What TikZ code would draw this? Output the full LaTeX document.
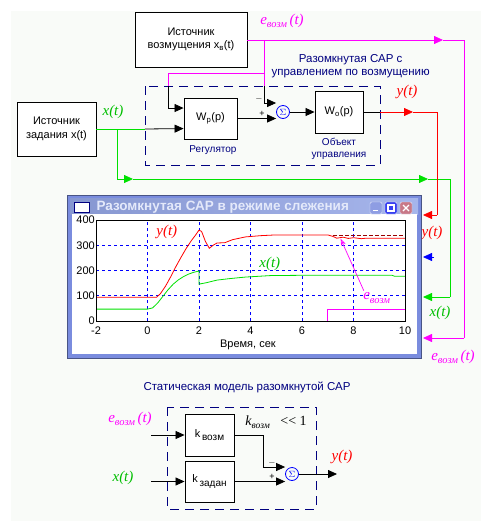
\documentclass[tikz,border=0pt]{standalone}
\usepackage{fontspec}
\setmainfont{Liberation Sans}
\newfontfamily\tms{Liberation Serif}
\usetikzlibrary{arrows.meta,positioning,calc}
\definecolor{navy}{RGB}{0,0,128}
\definecolor{emag}{RGB}{255,0,255}
\definecolor{xgrn}{RGB}{0,225,0}
\definecolor{bgc}{RGB}{249,251,248}
\definecolor{frame}{RGB}{122,140,222}
\definecolor{tbar}{RGB}{150,168,232}
\definecolor{ttext}{RGB}{228,233,250}
\begin{document}
\begin{tikzpicture}[x=1pt,y=-1pt,>={Triangle[length=9pt,width=8pt]},
    blok/.style={draw,line width=0.9pt,fill=white,align=center,inner sep=0pt,
        font=\fontsize{11}{13.5}\selectfont},
    summ/.style={draw=blue,circle,line width=0.8pt,inner sep=0pt,minimum size=13pt,
        text=blue,font=\fontsize{9}{9}\selectfont},
    lbl/.style={font=\fontsize{10}{12}\selectfont,text=navy,align=center},
    sig/.style={font=\fontsize{15}{15}\tms\itshape},
    frm/.style={draw=navy,line width=0.9pt,dash pattern=on 9pt off 6pt},
    wire/.style={line width=0.8pt}]
\useasboundingbox (0,0) rectangle (493,528);
\fill[bgc] (11,11) rectangle (481,521);

%Blocks of the open loop system
\node[blok,minimum width=112pt,minimum height=55pt] (srcV) at (191,39.5) {Источник\\возмущения x\textsubscript{в}(t)};
\node[blok,minimum width=79pt,minimum height=54pt] (srcX) at (56.5,129) {Источник\\задания x(t)};
\draw[frm] (145,86) rectangle (380,165);
\node[blok,minimum width=53pt,minimum height=41pt] (Wp) at (210.5,118.5) {W\textsubscript{p}(p)};
\node[blok,minimum width=48pt,minimum height=42pt] (Wo) at (339,112) {W\textsubscript{o}(p)};
\node[summ] (sum1) at (283,112) {$\Sigma$};
\node[lbl,anchor=west,font=\fontsize{11.5}{13}\selectfont] (title1) at (268,66) {Разомкнутая САР с\\управлением по возмущению};
\node[lbl] (reg) at (213,150) {Регулятор};
\node[lbl,font=\fontsize{10}{12.5}\selectfont] (obj) at (339,149) {Объект\\управления};

%Disturbance e(t)
\coordinate (eTap) at (264,40);
\coordinate (eArr) at (443,40);
\coordinate (eR) at (464,40);
\coordinate (eB) at (464,338);
\coordinate (eIn) at (423,338);
\coordinate (eK) at (264,73);
\coordinate (eL) at (168,73);
\coordinate (eL2) at (168,86);
\coordinate (eK2) at (264,86);
\coordinate (minus) at (264,103);
\draw[emag,wire,->] (srcV.east |- eArr) -- (eArr);
\draw[emag,wire] (eArr) -- (eR) -- (eB);
\draw[emag,wire,->] (eB) -- (eIn);
\draw[emag,wire] (eTap) -- (eK) -- (eL) -- (eL2);
\draw[emag,wire] (eK) -- (eK2);
\draw[wire,->] (eL2) |- ($(Wp.north west)!0.25!(Wp.south west)$);
\draw[wire] (eK2) -- (minus);
\draw[wire,->] (minus) -- (minus -| sum1.west);
\node[font=\fontsize{9}{9}\selectfont] (mn1) at (259,99) {$-$};
\node[font=\fontsize{9}{9}\selectfont] (pl1) at (262,114) {+};

%Reference x(t)
\coordinate (xD) at (145,129);
\coordinate (xTap) at (117,129);
\coordinate (xB) at (117,179);
\coordinate (xA1) at (133,179);
\coordinate (xA2) at (428,179);
\coordinate (xR) at (450,179);
\coordinate (xR2) at (450,297);
\coordinate (xIn) at (423,297);
\draw[xgrn,wire] (srcX.east |- xD) -- (xD);
\draw[wire,->] (xD) -- ($(Wp.north west)!0.74!(Wp.south west)$);
\draw[xgrn,wire,->] (xTap) -- (xB) -- (xA1);
\draw[xgrn,wire,->] (xA1) -- (xA2);
\draw[xgrn,wire] (xA2) -- (xR) -- (xR2);
\draw[xgrn,wire,->] (xR2) -- (xIn);

%Plant and output y(t)
\draw[wire,->] (Wp.east) -- (Wp.east -| sum1.west);
\draw[wire,->] (sum1.east) -- (Wo.west);
\coordinate (yD) at (380,112);
\coordinate (yArr) at (413,112);
\coordinate (yR) at (437,112);
\coordinate (yB) at (437,215);
\coordinate (yIn) at (423,215);
\draw[wire] (Wo.east) -- (yD);
\draw[red,wire,->] (yD) -- (yArr);
\draw[red,wire] (yArr) -- (yR) -- (yB);
\draw[red,wire,->] (yB) -- (yIn);
\coordinate (bS) at (434,257);
\coordinate (bIn) at (423,257);
\draw[blue,wire,->] (bS) -- (bIn);

\node[sig,text=emag] (eTop) at (282,21) {e\raisebox{-0.5ex}{\fontsize{10.5}{10}\selectfont возм}\,(t)};
\node[sig,text=red] (yTop) at (407,92) {y(t)};
\node[sig,text=xgrn!85!black] (xTop) at (113,112) {x(t)};
\node[sig,text=red] (yRt) at (432,233) {y(t)};
\node[sig,text=xgrn!85!black] (xRt) at (440,313) {x(t)};
\node[sig,text=emag] (eRt) at (453,357) {e\raisebox{-0.5ex}{\fontsize{10.5}{10}\selectfont возм}\,(t)};

%Scope window
\draw[fill=frame,draw=frame!60!black,line width=0.6pt] (67,195) rectangle (421,358);
\shade[left color=tbar!90!black,right color=tbar!85!white] (70,198) rectangle (418,214);
\fill[white] (72,214) rectangle (417,354);
\draw[fill=white,draw=navy,line width=0.8pt] (74,202) rectangle (89,212);
\node[anchor=west,text=ttext,font=\fontsize{13.5}{14}\selectfont\bfseries] (wtitle) at (93,207) {Разомкнутая САР в режиме слежения};
\draw[fill=frame!85!white,draw=white!80!frame,rounded corners=1.5pt] (370,202) rectangle (382,214);
\draw[white,line width=1pt] (373,210) -- (378,210);
\draw[fill=blue!55!frame,draw=white!80!frame,rounded corners=1.5pt] (385,202) rectangle (397,214);
\draw[white,line width=1.2pt] (388,205) rectangle (394,211);
\draw[fill={rgb,255:red,200;green,120;blue,135},draw=white!80!frame,rounded corners=1.5pt] (400,202) rectangle (412,214);
\draw[white,line width=1.4pt] (403,205) -- (409,211) (403,211) -- (409,205);

\begin{scope}[shift={(147.5,321)},xscale=25.75,yscale=-0.2525]
  %grid
  \foreach \t in {0,2,4,6,8}
    \draw[blue,line width=0.7pt,dash pattern=on 3pt off 3pt] (\t,0) -- (\t,400);
  \foreach \v in {100,200,300}
    \draw[blue,line width=0.7pt,dash pattern=on 3pt off 3pt] (-2,\v) -- (10,\v);
  %curves
  \draw[emag,line width=0.8pt] (-2,0) -- (7,0) -- (7,47) -- (10,47);
  \draw[red!60!black,line width=0.7pt,dash pattern=on 4pt off 2pt] (7.2,341) -- (10,341);
  \draw[xgrn,line width=0.8pt] plot coordinates {(-2,47) (0,47) (0.2,52) (0.4,72) (0.6,98)
    (0.8,124) (1.0,146) (1.2,163) (1.4,176) (1.6,186) (1.8,193) (2.0,198) (2.0,146) (2.3,152)
    (2.7,162) (3.2,168) (3.8,174) (4.8,180) (6,181) (9.5,181) (9.6,177) (10,177)};
  \draw[red,line width=0.8pt] plot coordinates {(-2,94) (0.35,94) (0.5,108) (0.7,138) (0.9,175)
    (1.1,215) (1.3,252) (1.5,287) (1.7,318) (1.85,338) (2.0,360) (2.1,355) (2.25,315) (2.4,288)
    (2.55,300) (2.7,309) (3.0,310) (3.3,322) (3.8,333) (4.4,338) (5,341) (7.0,341) (7.2,335)
    (7.35,328) (7.6,332) (7.8,327) (8.0,330) (8.3,326) (8.5,328) (10,328)};
  \draw[line width=0.9pt] (-2,0) rectangle (10,400);
  \foreach \t in {-2,0,...,10}
    \node[font=\fontsize{11}{11}\selectfont] at (\t,-40) {\t};
  \foreach \v in {0,100,...,400}
    \node[anchor=east,font=\fontsize{11}{11}\selectfont,inner sep=1pt] at (-2,\v) {\v};
  \node[font=\fontsize{11}{11}\selectfont] (tlab) at (3.9,-95) {Время, сек};
  \node[sig,text=red] (yPl) at (0.75,352) {y(t)};
  \node[sig,text=xgrn!85!black] (xPl) at (4.75,228) {x(t)};
  \node[sig,text=emag] (ePl) at (8.9,91) {e\raisebox{-0.5ex}{\fontsize{10.5}{10}\selectfont возм}};
  \coordinate (eTip) at (7.5,326);
  \coordinate (eTail) at (8.4,120);
\end{scope}
\draw[emag,line width=0.7pt,-{Stealth[length=7pt,width=5pt,open]}] (eTail) -- (eTip);

%Static model
\node[lbl,font=\fontsize{11.5}{13}\selectfont] (title2) at (247,387) {Статическая модель разомкнутой САР};
\draw[frm] (167,407) rectangle (316,509);
\node[blok,minimum width=49pt,minimum height=42pt] (kv) at (209.5,435) {k\raisebox{-0.6ex}{\fontsize{10}{10}\selectfont\,возм}};
\node[blok,minimum width=49pt,minimum height=41pt] (kz) at (209.5,481.5) {k\raisebox{-0.6ex}{\fontsize{10}{10}\selectfont\,задан}};
\node[summ] (sum2) at (292,474) {$\Sigma$};
\coordinate (inE) at (151,435);
\coordinate (inX) at (151,481.5);
\coordinate (kvR) at (263,435);
\coordinate (kvD) at (263,467);
\coordinate (yOut) at (337,474);
\draw[wire,->] (inE) -- (kv.west);
\draw[wire,->] (inX) -- (kz.west);
\draw[wire] (kv.east) -- (kvR) -- (kvD);
\draw[wire,->] (kvD) -- (kvD -| sum2.west);
\draw[wire,->] (kz.east) -- (kz.east -| sum2.west);
\draw[wire,->] (sum2.east) -- (yOut);
\node[font=\fontsize{9}{9}\selectfont] (mn2) at (272,463) {$-$};
\node[font=\fontsize{9}{9}\selectfont] (pl2) at (272,477) {+};
\node[sig,text=emag] (eSt) at (130,419) {e\raisebox{-0.5ex}{\fontsize{10.5}{10}\selectfont возм}\,(t)};
\node[sig,text=xgrn!85!black] (xSt) at (123,478) {x(t)};
\node[sig,text=red] (ySt) at (342,457) {y(t)};
\node[font=\fontsize{14}{14}\tms] (kcoef) at (276,422) {\textit{k}\raisebox{-0.5ex}{\fontsize{9.5}{9}\selectfont\itshape возм}\ \ \ {<}{<}\ 1};
\end{tikzpicture}
\end{document}
